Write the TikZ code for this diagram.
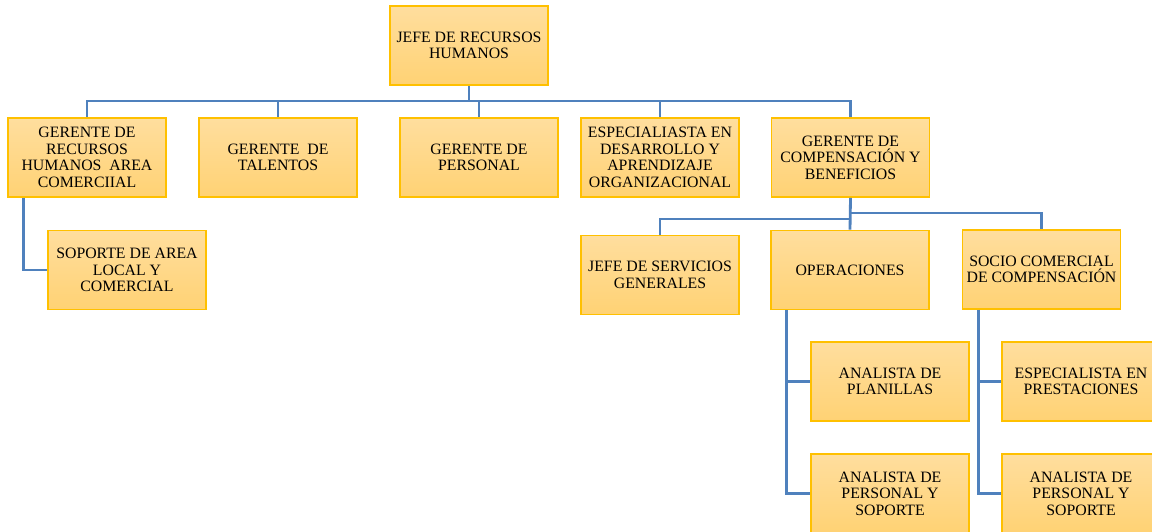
\documentclass[tikz,border=0pt]{standalone}
\usepackage{fontspec}
\setmainfont{Liberation Serif}
\definecolor{boxtop}{HTML}{FFDE9E}
\definecolor{boxbottom}{HTML}{FFD274}
\definecolor{boxline}{HTML}{FFC000}
\definecolor{linkblue}{HTML}{4F81BD}
\begin{document}
\begin{tikzpicture}[
  x=0.02cm,
  y=-0.02cm,
  every node/.style={font=\fontsize{9}{9.4}\selectfont, text=black},
  box/.style={draw=boxline, line width=0.9pt, top color=boxtop, bottom color=boxbottom,
    minimum width=3.16cm, minimum height=1.58cm, inner sep=0pt, align=center},
  link/.style={linkblue, line width=1.6pt}
]
  % ---- page size of the chart -------------------------------------------
  \clip (0,0) rectangle (1152,531);

  % ---- head --------------------------------------------------------------
  \node[box] (jefe) at (469,45.5) {JEFE DE RECURSOS\\HUMANOS};

  % ---- first level -------------------------------------------------------
  \node[box] (rh)   at (87,157.5)  {GERENTE DE\\RECURSOS\\HUMANOS\ \ AREA\\COMERCIIAL};
  \node[box] (tal)  at (278,157.5) {GERENTE\ \ DE\\TALENTOS};
  \node[box] (per)  at (479,157.5) {GERENTE DE\\PERSONAL};
  \node[box] (esp)  at (660,157.5) {ESPECIALIASTA EN\\DESARROLLO Y\\APRENDIZAJE\\ORGANIZACIONAL};
  \node[box] (comp) at (850.5,157.5) {GERENTE DE\\COMPENSACIÓN Y\\BENEFICIOS};

  % ---- second level ------------------------------------------------------
  \node[box] (sop)  at (127,270)    {SOPORTE DE AREA\\LOCAL Y\\COMERCIAL};
  \node[box] (serv) at (660,275)    {JEFE DE SERVICIOS\\GENERALES};
  \node[box] (ope)  at (850,270)    {OPERACIONES};
  \node[box] (soc)  at (1041.5,269.5) {SOCIO COMERCIAL\\DE COMPENSACIÓN};

  % ---- third level -------------------------------------------------------
  \node[box] (pla)  at (890,381.5)  {ANALISTA DE\\PLANILLAS};
  \node[box] (aps)  at (890,493.5)  {ANALISTA DE\\PERSONAL Y\\SOPORTE};
  \node[box] (pre)  at (1081,381.5) {ESPECIALISTA EN\\PRESTACIONES};
  \node[box] (apt)  at (1081,493.5) {ANALISTA DE\\PERSONAL Y\\SOPORTE};

  % ---- connectors --------------------------------------------------------
  \coordinate (bus1) at (469,101);
  \coordinate (bus2) at (850,219);
  \coordinate (bus3) at (850,213);

  \draw[link] (jefe.south) -- (bus1);
  \foreach \n in {rh,tal,per,esp,comp}
    \draw[link] (bus1) -| (\n.north);

  \draw[link] ([xshift=0.32cm]rh.south west) |- (sop.west);

  \draw[link] (comp.south) -- (ope.north);
  \draw[link] (bus2) -| (serv.north);
  \draw[link] (bus3) -| (soc.north);

  \draw[link] ([xshift=0.32cm]ope.south west) |- (pla.west);
  \draw[link] ([xshift=0.32cm]ope.south west) |- (aps.west);
  \draw[link] ([xshift=0.34cm]soc.south west) |- (pre.west);
  \draw[link] ([xshift=0.34cm]soc.south west) |- (apt.west);
\end{tikzpicture}
\end{document}
